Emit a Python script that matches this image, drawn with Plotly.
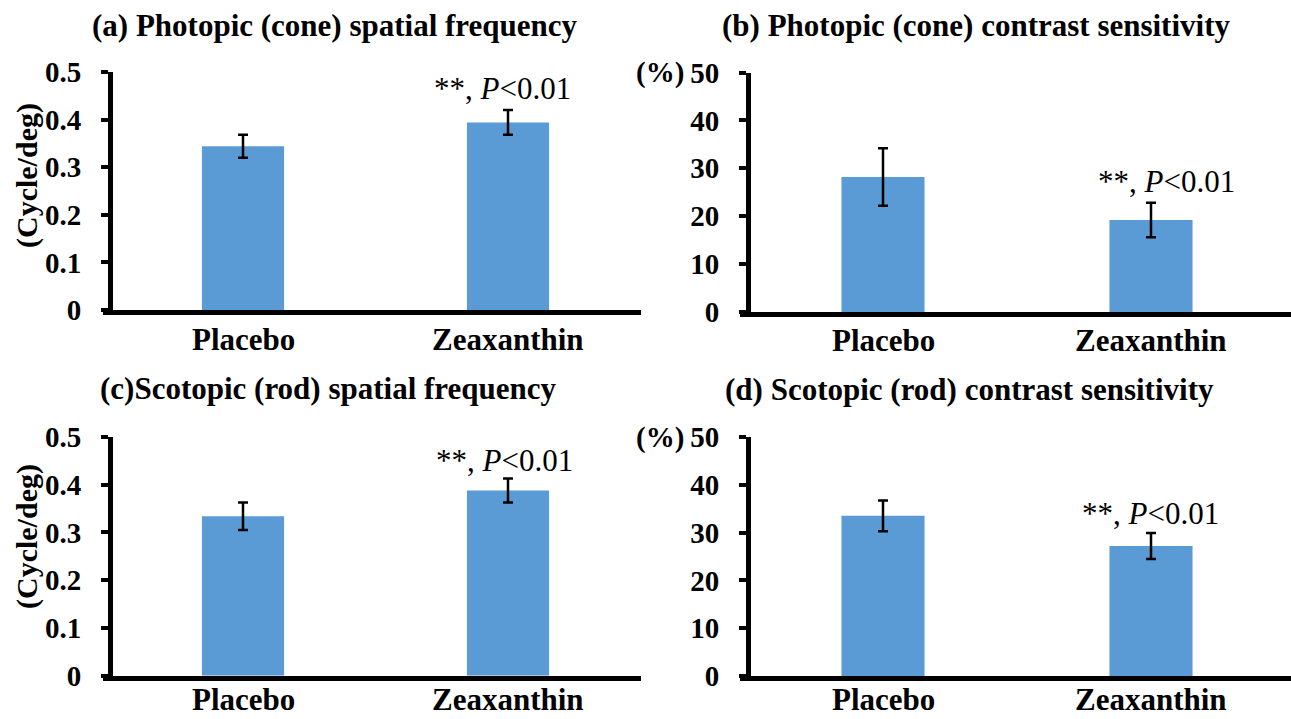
import plotly.graph_objects as go

W, H = 1291, 719

categories = ["Placebo", "Zeaxanthin"]

# group means and error-bar half-widths
photopic_freq = [0.344, 0.394]
photopic_freq_err = [0.024, 0.026]
photopic_contrast = [28.2, 19.2]
photopic_contrast_err = [6.0, 3.6]
scotopic_freq = [0.334, 0.388]
scotopic_freq_err = [0.029, 0.025]
scotopic_contrast = [33.5, 27.2]
scotopic_contrast_err = [3.2, 2.7]

panel_titles = [
    "(a) Photopic (cone) spatial frequency",
    "(b) Photopic (cone) contrast sensitivity",
    "(c)Scotopic (rod) spatial frequency",
    "(d) Scotopic (rod) contrast sensitivity",
]
freq_unit = "(Cycle/deg)"
contrast_unit = "(%)"
sig_label = "**, <i>P</i>&lt;0.01"

FONT = "Liberation Serif, Times New Roman, serif"
BAR = "#5B9BD5"


def px_x(x):
    return x / W


def px_y(y):
    return 1 - y / H


# pixel layout of each panel; cat_y = (pixel y, anchor) of category labels
panels = [
    dict(vals=photopic_freq, err=photopic_freq_err, title=panel_titles[0],
         xl=103, xr=641, yaxis_x=110, c0=243, c1=508, ytop=72, ybot=310,
         ymax=0.5, dtick=0.1, title_xy=(335, 26), sig_xy=(503, 89),
         unit="freq", unit_y=176, cat_y=(339, "middle")),
    dict(vals=photopic_contrast, err=photopic_contrast_err, title=panel_titles[1],
         xl=740, xr=1291, yaxis_x=748, c0=883, c1=1151, ytop=72.5, ybot=312,
         ymax=50, dtick=10, title_xy=(976, 26), sig_xy=(1166, 182),
         unit="pct", unit_y=None, cat_y=(340, "middle")),
    dict(vals=scotopic_freq, err=scotopic_freq_err, title=panel_titles[2],
         xl=103, xr=641, yaxis_x=110, c0=243, c1=508, ytop=437, ybot=675.7,
         ymax=0.5, dtick=0.1, title_xy=(329, 389), sig_xy=(504, 460),
         unit="freq", unit_y=537, cat_y=(719, "bottom")),
    dict(vals=scotopic_contrast, err=scotopic_contrast_err, title=panel_titles[3],
         xl=740, xr=1291, yaxis_x=748, c0=883, c1=1151, ytop=437, ybot=676,
         ymax=50, dtick=10, title_xy=(969, 390), sig_xy=(1150, 513),
         unit="pct", unit_y=None, cat_y=(719, "bottom")),
]

fig = go.Figure()
annotations = []
layout = {}

for i, p in enumerate(panels, start=1):
    xa = "x" if i == 1 else f"x{i}"
    ya = "y" if i == 1 else f"y{i}"
    xkey = "xaxis" if i == 1 else f"xaxis{i}"
    ykey = "yaxis" if i == 1 else f"yaxis{i}"
    spacing = p["c1"] - p["c0"]
    x_lo = (p["xl"] - p["c0"]) / spacing
    x_hi = (p["xr"] - p["c0"]) / spacing

    fig.add_trace(go.Bar(
        x=categories, y=p["vals"], xaxis=xa, yaxis=ya,
        width=0.31, marker=dict(color=BAR, line=dict(width=0)),
        error_y=dict(type="data", array=p["err"], visible=True,
                     color="black", thickness=2.5, width=5),
        showlegend=False,
    ))

    layout[xkey] = dict(
        domain=[px_x(p["xl"]), px_x(p["xr"])], anchor=ya, type="category",
        range=[x_lo, x_hi], showline=True, linecolor="black", linewidth=5,
        ticks="", showticklabels=False, showgrid=False, zeroline=False,
        automargin=False,
    )
    layout[ykey] = dict(
        domain=[px_y(p["ybot"]), px_y(p["ytop"])], anchor="free",
        position=px_x(p["yaxis_x"]), range=[0, p["ymax"]], dtick=p["dtick"],
        showline=True, linecolor="black", linewidth=5, ticks="outside",
        ticklen=7, tickwidth=4, tickcolor="black", showgrid=False,
        zeroline=False, ticklabelstandoff=14, automargin=False,
        tickfont=dict(family=FONT, size=29, color="black", weight="bold"),
    )

    # category labels under the bars
    for cat in categories:
        annotations.append(dict(
            text=cat, xref=xa, yref="paper", x=cat,
            y=px_y(p["cat_y"][0]), xanchor="center", yanchor=p["cat_y"][1],
            showarrow=False,
            font=dict(family=FONT, size=31, color="black", weight="bold"),
        ))

    annotations.append(dict(
        text=p["title"], xref="paper", yref="paper",
        x=px_x(p["title_xy"][0]), y=px_y(p["title_xy"][1]),
        xanchor="center", yanchor="middle", showarrow=False,
        font=dict(family=FONT, size=31, color="black", weight="bold"),
    ))
    annotations.append(dict(
        text=sig_label, xref="paper", yref="paper",
        x=px_x(p["sig_xy"][0]), y=px_y(p["sig_xy"][1]),
        xanchor="center", yanchor="middle", showarrow=False,
        font=dict(family=FONT, size=31, color="black"),
    ))
    if p["unit"] == "freq":
        annotations.append(dict(
            text=freq_unit, xref="paper", yref="paper",
            x=px_x(27), y=px_y(p["unit_y"]), textangle=-90,
            xanchor="center", yanchor="middle", showarrow=False,
            font=dict(family=FONT, size=30, color="black", weight="bold"),
        ))
    else:
        annotations.append(dict(
            text=contrast_unit, xref="paper", yref=ya,
            x=px_x(686), y=p["ymax"],
            xanchor="right", yanchor="middle", showarrow=False,
            font=dict(family=FONT, size=29, color="black", weight="bold"),
        ))

fig.update_layout(
    width=W, height=H, margin=dict(l=0, r=0, t=0, b=0, autoexpand=False),
    paper_bgcolor="white", plot_bgcolor="white",
    annotations=annotations, bargap=0.69, **layout,
)

fig.write_html("out.html")
